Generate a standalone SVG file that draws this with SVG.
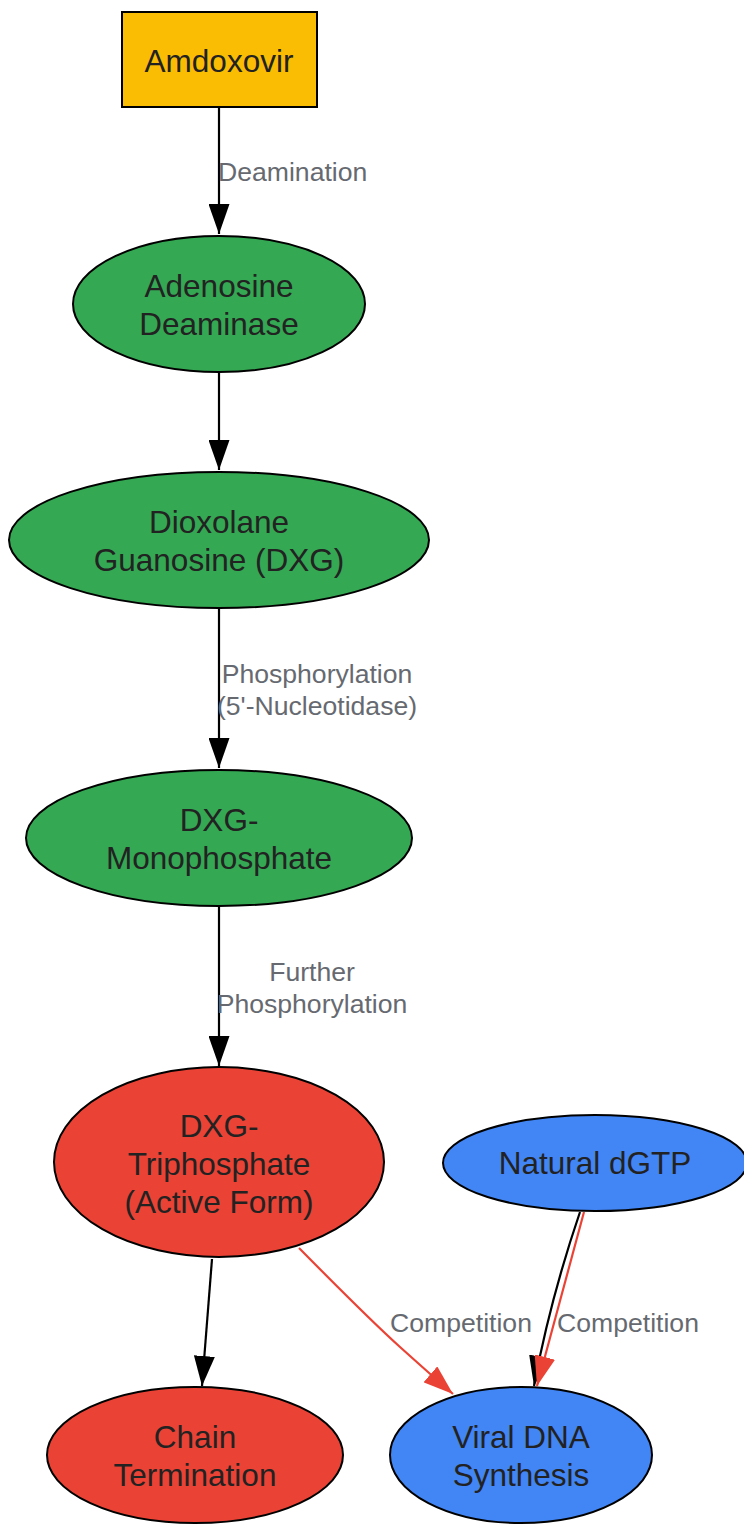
<svg xmlns="http://www.w3.org/2000/svg" width="744" height="1524" viewBox="0 0 744 1524">
<defs>
<style>
.n{stroke:#000;stroke-width:2}
.t{font-family:"Liberation Sans",Arial,sans-serif;font-size:31.5px;fill:#222;text-anchor:middle}
.l{font-family:"Liberation Sans",Arial,sans-serif;font-size:26.6px;fill:#666a70}
.e{fill:none;stroke:#000;stroke-width:2.2}
.r{fill:none;stroke:#ea4335;stroke-width:2.2}
</style>
<marker id="ab" viewBox="0 0 30 21" refX="30" refY="10.5" markerWidth="30" markerHeight="21" markerUnits="userSpaceOnUse" orient="auto"><path d="M0,0 L30,10.5 L0,21 z" fill="#000"/></marker>
<marker id="ar" viewBox="0 0 30 21" refX="30" refY="10.5" markerWidth="30" markerHeight="21" markerUnits="userSpaceOnUse" orient="auto"><path d="M0,0 L30,10.5 L0,21 z" fill="#ea4335"/></marker>
</defs>
<rect width="744" height="1524" fill="#fff"/>
<g id="connectors">
<path class="e" d="M219,107 L219,234" marker-end="url(#ab)"/>
<path class="e" d="M219,373 L219,470" marker-end="url(#ab)"/>
<path class="e" d="M219,609 L219,768" marker-end="url(#ab)"/>
<path class="e" d="M219,907 L219,1066" marker-end="url(#ab)"/>
<path class="e" d="M212,1259 L202,1386" marker-end="url(#ab)"/>
<path class="r" d="M299,1248 Q370,1320 400,1347 T453,1394" marker-end="url(#ar)"/>
<path class="e" d="M580,1212 Q550,1300 534,1386" marker-end="url(#ab)"/>
<path class="r" d="M584,1212 L537,1386" marker-end="url(#ar)"/>
<text class="l" x="218" y="181">Deamination</text>
<text class="l" x="317" y="683" text-anchor="middle">Phosphorylation</text>
<text class="l" x="317" y="715" text-anchor="middle">(5'-Nucleotidase)</text>
<text class="l" x="312" y="981" text-anchor="middle">Further</text>
<text class="l" x="312" y="1013" text-anchor="middle">Phosphorylation</text>
<text class="l" x="461" y="1332" text-anchor="middle">Competition</text>
<text class="l" x="628" y="1332" text-anchor="middle">Competition</text>
</g>
<g id="amdoxovir"><rect class="n" x="122" y="12" width="195" height="95" fill="#fbbc04"/><text class="t" x="219" y="72">Amdoxovir</text></g>
<g id="ada"><ellipse class="n" cx="219" cy="304" rx="146" ry="68" fill="#34a853"/><text class="t" x="219" y="297">Adenosine</text><text class="t" x="219" y="335">Deaminase</text></g>
<g id="dxg"><ellipse class="n" cx="219" cy="540" rx="210" ry="68" fill="#34a853"/><text class="t" x="219" y="533">Dioxolane</text><text class="t" x="219" y="571">Guanosine (DXG)</text></g>
<g id="dxgmp"><ellipse class="n" cx="219" cy="838" rx="193" ry="68" fill="#34a853"/><text class="t" x="219" y="831">DXG-</text><text class="t" x="219" y="869">Monophosphate</text></g>
<g id="dxgtp"><ellipse class="n" cx="219" cy="1162" rx="165" ry="95" fill="#ea4335"/><text class="t" x="219" y="1137">DXG-</text><text class="t" x="219" y="1175">Triphosphate</text><text class="t" x="219" y="1213">(Active Form)</text></g>
<g id="dgtp"><ellipse class="n" cx="595" cy="1163" rx="152" ry="48" fill="#4285f4"/><text class="t" x="595" y="1174">Natural dGTP</text></g>
<g id="chain"><ellipse class="n" cx="195" cy="1455" rx="148" ry="68" fill="#ea4335"/><text class="t" x="195" y="1448">Chain</text><text class="t" x="195" y="1486">Termination</text></g>
<g id="viral"><ellipse class="n" cx="521" cy="1455" rx="131" ry="68" fill="#4285f4"/><text class="t" x="521" y="1448">Viral DNA</text><text class="t" x="521" y="1486">Synthesis</text></g>
</svg>
